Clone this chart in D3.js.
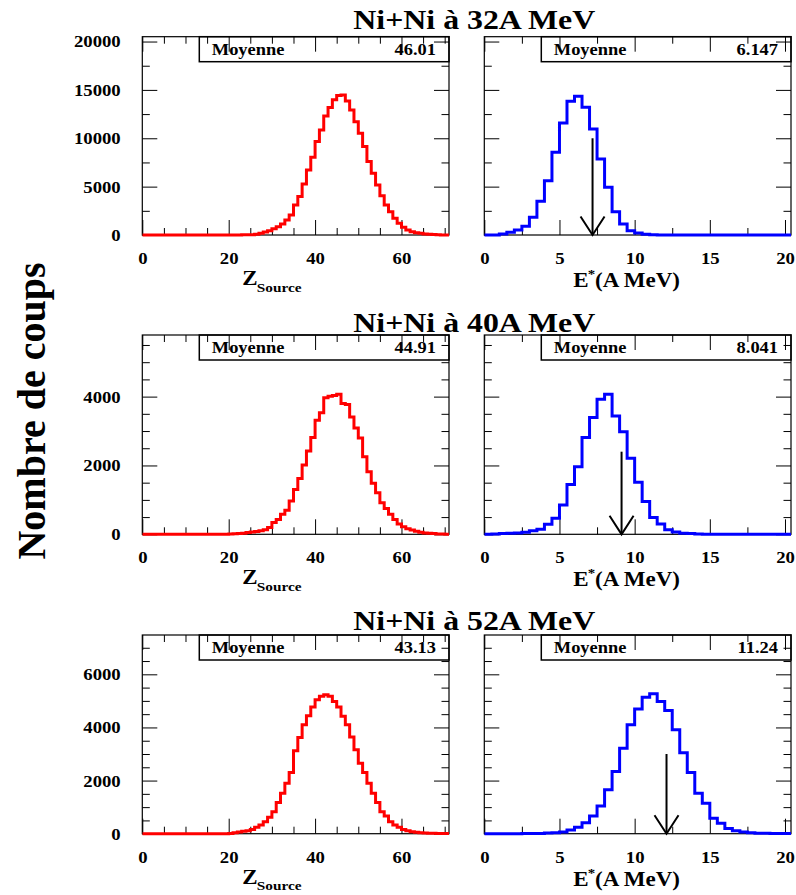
<!DOCTYPE html>
<html><head><meta charset="utf-8">
<script src="https://cdn.jsdelivr.net/npm/d3@7"></script>
<style>
body{margin:0;background:#fff}
svg{display:block}
text{font-family:"Liberation Serif","Times New Roman",serif;font-weight:bold;fill:#000}
</style>
</head><body>
<svg id="c" width="796" height="895"></svg>
<script>
// ---------- data ----------
const titles = ["Ni+Ni à 32A MeV", "Ni+Ni à 40A MeV", "Ni+Ni à 52A MeV"];
const zBinWidth = 1;      // Z_Source bins: [k, k+1), k = 0..70
const eBinWidth = 0.5;    // E* bins: [0.5k, 0.5k+0.5), k = 0..40
const z32 = [0,0,0,0,0,0,0,0,0,0, 0,0,0,0,0,0,0,0,0,0, 5,5,10,15,20,30,80,170,310,450,
  650,860,1140,1550,2070,3100,3970,5280,6720,8030, 9660,10860,12310,13170,13970,14410,14480,13860,12930,11720,
  10520,9140,7590,6380,5170,4070,3100,2410,1720,1210, 790,520,340,240,170,100,70,40,20,10, 5];
const e32 = [5,10,100,280,520,900,1830,3480,5620,8550, 11590,13830,14340,13210,10970,7860,4930,2410,1140,450,
  210,70,20,10,0,0,0,0,0,0, 0,0,0,0,0,0,0,0,0,0, 0];
const z40 = [0,0,0,0,0,0,0,0,0,0, 0,0,0,0,0,0,0,0,0,0, 10,15,20,30,50,70,80,100,130,200,
  340,430,580,700,970,1300,1620,2010,2420,2810, 3310,3530,3970,4010,4030,4070,3800,3770,3410,3090,
  2800,2250,1820,1480,1210,920,750,580,430,300, 220,160,125,90,60,40,30,20,10,8, 5];
const e40 = [5,10,20,30,40,60,100,150,290,464, 850,1450,1960,2810,3390,3920,4070,3440,2980,2210,
  1510,950,490,300,130,70,30,20,10,5, 0,0,0,0,0,0,0,0,0,0, 0];
const z52 = [0,0,0,0,0,0,0,0,0,0, 0,0,0,0,0,0,0,0,0,0, 10,40,60,90,110,160,240,330,450,620,
  830,1170,1520,1900,2300,3120,3620,4100,4440,4770, 5040,5170,5230,5170,4980,4770,4420,4100,3640,3160,
  2650,2300,1900,1520,1170,830,670,450,330,240, 160,110,75,50,40,30,20,15,10,5, 5];
const e52 = [0,0,0,0,0,5,5,10,30,40, 60,140,240,415,670,1040,1650,2340,3220,4100,
  4690,5140,5270,4980,4640,3910,3050,2300,1520,1145, 580,390,200,113,63,40,20,15,10,5, 5];
const zMeans = ["46.01", "44.91", "43.13"];
const eMeans = ["6.147", "8.041", "11.24"];
const arrowE = [7.2, 9.13, 12.12];       // arrow position (A MeV)
const arrowTop = [10000, 2400, 3000];    // arrow top (counts)
const yMax = [20500, 5790, 7480];
const yMajor = [[0,5000,10000,15000,20000], [0,2000,4000], [0,2000,4000,6000]];
const yMinor = [[2500,7500,12500,17500],
  [500,1000,1500,2500,3000,3500,4500,5000,5500],
  [500,1000,1500,2500,3000,3500,4500,5000,5500,6500,7000]];
const zMajor = [0,20,40,60], zMinor = [5,10,15,25,30,35,45,50,55,65,70];
const eMajor = [0,5,10,15,20], eMinor = [2.5,7.5,12.5,17.5];
const zDomain = [0, 71], eDomain = [0, 20.4];

// ---------- layout ----------
const svg = d3.select("#c");
const colX = [[142.3, 449], [484.3, 791]];
const rowY = [[36.7, 235], [335, 534.3], [635, 833.7]];
const titleBase = [28.5, 331.5, 630];
const SX = 1.15; // horizontal text stretch of the original
const FONT = '"Liberation Serif","Times New Roman",serif';
const fmt = d3.format("d");

function stretch(sel, f) {
  sel.each(function () {
    const w = this.getComputedTextLength();
    if (w > 0) {
      this.setAttribute("textLength", w * (f || SX));
      this.setAttribute("lengthAdjust", "spacingAndGlyphs");
    }
  });
  return sel;
}

const zCounts = [z32, z40, z52], eCounts = [e32, e40, e52];

function ticks(g, axisFn, scale, major, minor, majorLen, minorLen, labels) {
  const a1 = axisFn(scale).tickValues(major).tickSizeInner(-majorLen).tickSizeOuter(0)
    .tickFormat(labels ? fmt : "");
  const gm = g.append("g").call(a1).attr("font-family", FONT).attr("font-size", 16);
  gm.select(".domain").remove();
  gm.selectAll("line").attr("stroke", "#000").attr("stroke-width", 1);
  gm.selectAll("text").attr("fill", "#000")
    .style("font-family", FONT).style("font-weight", "bold").style("font-size", "16px");
  const gn = g.append("g").call(axisFn(scale).tickValues(minor).tickSizeInner(-minorLen).tickSizeOuter(0).tickFormat(""));
  gn.select(".domain").remove();
  gn.selectAll("line").attr("stroke", "#000").attr("stroke-width", 1);
  return gm;
}

rowY.forEach(([top, bot], r) => {
  const y = d3.scaleLinear().domain([0, yMax[r]]).range([bot, top]);
  // title
  stretch(svg.append("text").attr("x", 474.3).attr("y", titleBase[r])
    .attr("text-anchor", "middle").style("font-size", "27.7px").text(titles[r]));

  [0, 1].forEach(c => {
    const [x0, x1] = colX[c];
    const isZ = c === 0;
    const x = d3.scaleLinear().domain(isZ ? zDomain : eDomain).range([x0, x1]);
    const counts = isZ ? zCounts[r] : eCounts[r];
    const bw = isZ ? zBinWidth : eBinWidth;
    const g = svg.append("g");
    const clipId = `clip${r}${c}`;
    svg.append("clipPath").attr("id", clipId).append("rect")
      .attr("x", x0).attr("y", top).attr("width", x1 - x0).attr("height", bot - top + 3);

    // stat box
    const bx = x0 + 57;
    g.append("rect").attr("x", bx).attr("y", top).attr("width", x1 - bx).attr("height", 25)
      .attr("fill", "none").attr("stroke", "#000").attr("stroke-width", 1.5);
    stretch(g.append("text").attr("x", bx + 12.5).attr("y", top + 18.3).style("font-size", "16px").text("Moyenne"));
    stretch(g.append("text").attr("x", x1 - 13).attr("y", top + 18.3).attr("text-anchor", "end")
      .style("font-size", "16px").text(isZ ? zMeans[r] : eMeans[r]));

    // histogram
    const pts = counts.map((v, k) => [k * bw, v]);
    pts.push([counts.length * bw, counts[counts.length - 1]]);
    const line = d3.line().x(d => x(d[0])).y(d => y(d[1])).curve(d3.curveStepAfter);

    // frame
    g.append("rect").attr("x", x0).attr("y", top).attr("width", x1 - x0).attr("height", bot - top)
      .attr("fill", "none").attr("stroke", "#000").attr("stroke-width", 1.2);

    // ticks: left, right, top, bottom
    const gl = g.append("g").attr("transform", `translate(${x0},0)`);
    const lm = ticks(gl, d3.axisLeft, y, yMajor[r], yMinor[r], 15, 7.5, isZ);
    if (isZ) {
      lm.selectAll("text").attr("x", -21.6).attr("dy", "0.34em");
      stretch(lm.selectAll("text"), 1.17);
    }
    const gr = g.append("g").attr("transform", `translate(${x1},0)`);
    ticks(gr, d3.axisRight, y, yMajor[r], yMinor[r], 15, 7.5, false);
    const gt = g.append("g").attr("transform", `translate(0,${top})`);
    ticks(gt, d3.axisTop, x, isZ ? zMajor : eMajor, isZ ? zMinor : eMinor, 15, 7, false);
    const gb = g.append("g").attr("transform", `translate(0,${bot})`);
    const bm = ticks(gb, d3.axisBottom, x, isZ ? zMajor : eMajor, isZ ? zMinor : eMinor, 15, 7, true);
    bm.selectAll("text").attr("y", 29).attr("dy", 0);
    stretch(bm.selectAll("text"), 1.17);

    g.append("path").attr("d", line(pts)).attr("clip-path", `url(#${clipId})`)
      .attr("fill", "none").attr("stroke", isZ ? "#ff0000" : "#0000ff").attr("stroke-width", 3)
      .attr("stroke-linejoin", "miter");

    // axis title
    if (isZ) {
      stretch(g.append("text").attr("x", x0 + 100).attr("y", bot + 50).style("font-size", "20px").text("Z"));
      stretch(g.append("text").attr("x", x0 + 114.5).attr("y", bot + 56.7).style("font-size", "13.3px").text("Source"));
    } else {
      stretch(g.append("text").attr("x", x0 + 89).attr("y", bot + 52).style("font-size", "20px").text("E"));
      stretch(g.append("text").attr("x", x0 + 103.5).attr("y", bot + 43).style("font-size", "13px").text("*"));
      stretch(g.append("text").attr("x", x0 + 110.7).attr("y", bot + 52).style("font-size", "20px").text("(A MeV)"));
      // arrow
      const ax = x(arrowE[r]), ay0 = y(0), ay1 = y(arrowTop[r]);
      g.append("line").attr("x1", ax).attr("x2", ax).attr("y1", ay1).attr("y2", ay0)
        .attr("stroke", "#000").attr("stroke-width", 2);
      g.append("path").attr("d", `M${ax - 12},${ay0 - 18.5}L${ax},${ay0}L${ax + 12},${ay0 - 18.5}`)
        .attr("fill", "none").attr("stroke", "#000").attr("stroke-width", 2);
    }
  });
});

// y axis title
svg.append("text").attr("transform", "translate(45,411) rotate(-90)")
  .attr("text-anchor", "middle").style("font-size", "40px").text("Nombre de coups");
</script>
</body></html>
